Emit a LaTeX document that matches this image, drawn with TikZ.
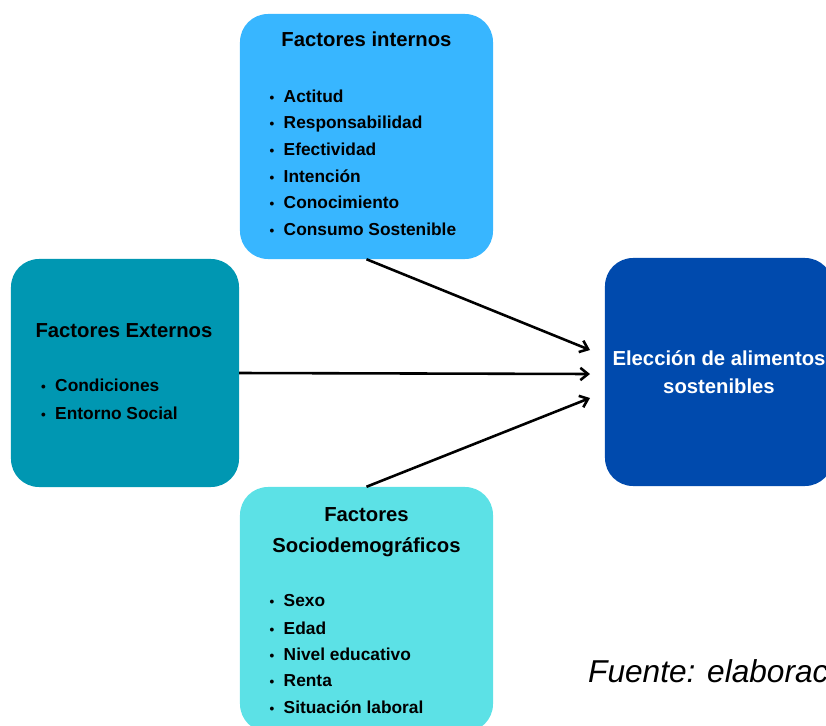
\documentclass[tikz,border=0pt]{standalone}
\usepackage{fontspec}
\setmainfont{Liberation Sans}
\usepackage{tikz}
\usetikzlibrary{positioning, arrows.meta}

\definecolor{internblue}{HTML}{38B6FF}
\definecolor{externteal}{HTML}{0097B2}
\definecolor{sociocyan}{HTML}{5CE1E6}
\definecolor{choiceblue}{HTML}{004AAD}

\newcommand{\bul}{\makebox[0.42cm][l]{\fontsize{11.5}{11.5}\selectfont •}}

\begin{document}
\begin{tikzpicture}[
    x=0.03cm, y=-0.03cm,
    box/.style={rounded corners=0.84cm, inner sep=0pt},
    head/.style={font=\fontsize{17.3}{26.5}\selectfont\bfseries, inner sep=0pt, anchor=base},
    itm/.style={font=\fontsize{14.8}{22}\selectfont\bfseries, inner sep=0pt, anchor=base west},
    arr/.style={-{Straight Barb[length=6.5pt, width=10.5pt]}, line width=2.2pt},
]
\useasboundingbox (0,0) rectangle (826,726);
\clip (0,0) rectangle (826,726);

% --- Boxes ---
\node[box, fill=internblue, minimum width=7.59cm, minimum height=7.35cm] (intern) at (366.5,136.5) {};
\node[box, fill=externteal, minimum width=6.84cm, minimum height=6.84cm] (extern) at (125,373) {};
\node[box, fill=sociocyan, minimum width=7.59cm, minimum height=7.35cm] (socio) at (366.5,609.5) {};
\node[box, fill=choiceblue, minimum width=6.84cm, minimum height=6.84cm, text=white,
      font=\fontsize{17.3}{24.2}\selectfont\bfseries, align=center] (choice) at (719,372)
    {Elección de alimentos\\sostenibles};

% --- Factores internos ---
\node[head] (internhead) at (366.5,46.7) {Factores internos};
\node[itm] (int1) at (269.5,102) {\bul Actitud};
\node[itm] (int2) at (269.5,128.7) {\bul Responsabilidad};
\node[itm] (int3) at (269.5,155.3) {\bul Efectividad};
\node[itm] (int4) at (269.5,182) {\bul Intención};
\node[itm] (int5) at (269.5,208.7) {\bul Conocimiento};
\node[itm] (int6) at (269.5,235.3) {\bul Consumo Sostenible};

% --- Factores externos ---
\node[head] (externhead) at (124,337) {Factores Externos};
\node[itm] (ext1) at (41,391.7) {\bul Condiciones};
\node[itm] (ext2) at (41,419.3) {\bul Entorno Social};

% --- Factores sociodemograficos ---
\node[head] (sociohead) at (366.5,521.7) {Factores};
\node[head] (sociohead2) at (366.5,552.7) {Sociodemográficos};
\node[itm] (soc1) at (269.5,606.7) {\bul Sexo};
\node[itm] (soc2) at (269.5,634) {\bul Edad};
\node[itm] (soc3) at (269.5,660) {\bul Nivel educativo};
\node[itm] (soc4) at (269.5,686.7) {\bul Renta};
\node[itm] (soc5) at (269.5,713.3) {\bul Situación laboral};

% --- Arrows ---
\coordinate (tgtup) at (590,350);
\coordinate (tgtmid) at (590,374);
\coordinate (tgtdown) at (590,398);
\draw[arr] (intern.south) -- (tgtup);
\draw[arr] (extern.east) -- (tgtmid);
\draw[arr] (socio.north) -- (tgtdown);

% --- Source note ---
\node[font=\fontsize{27}{30}\selectfont\itshape, inner sep=0pt, anchor=base west] (source)
    at (588,682) {Fuente: elaboración propia};

\end{tikzpicture}
\end{document}
